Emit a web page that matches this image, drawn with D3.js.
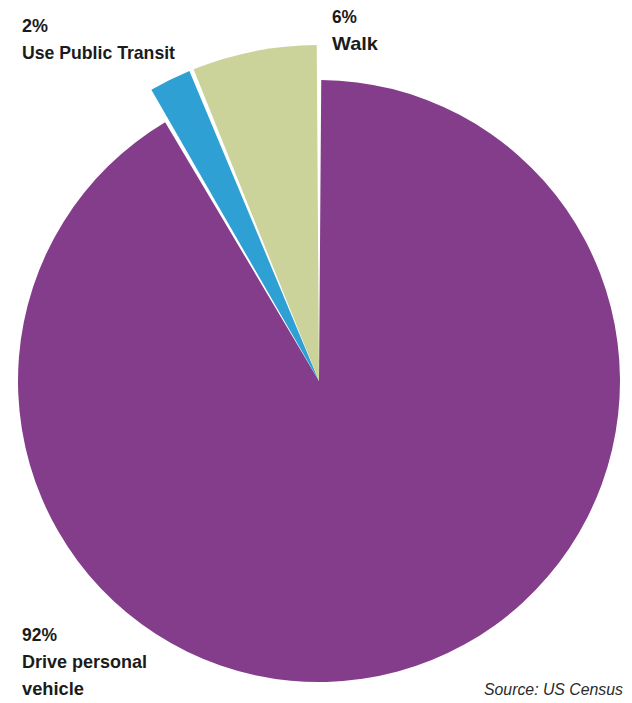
<!DOCTYPE html>
<html>
<head>
<meta charset="utf-8">
<script src="https://cdn.jsdelivr.net/npm/d3@7"></script>
<style>
  html, body { margin: 0; padding: 0; background: #fff; }
  svg { display: block; }
  .lbl { font-family: "Liberation Sans Narrow", "Arial Narrow", "Liberation Sans", sans-serif; font-weight: bold; fill: #1b1b1b; }
  .src { font-family: "Liberation Sans Narrow", "Arial Narrow", "Liberation Sans", sans-serif; font-style: italic; fill: #2a2a2a; }
</style>
</head>
<body>
<script>
// Commute mode shares (percent)
const modes = ["Drive personal vehicle", "Use Public Transit", "Walk"];
const shares = [92, 2, 6];
const colors = ["#843d8a", "#2ea0d3", "#ccd39a"];
const exploded = [false, true, true];
const source = "Source: US Census";

const W = 632, H = 703;
const cx = 319, cy = 381;
const baseR = 301, popR = 336;

const svg = d3.select("body").append("svg")
  .attr("width", W).attr("height", H);

const pie = d3.pie().sort(null).value(d => d.value)
  .startAngle(0).endAngle(2 * Math.PI)
  .padAngle(0.015);

const data = modes.map((m, i) => ({ mode: m, value: shares[i], color: colors[i], pop: exploded[i] }));
const arcs = pie(data);

const g = svg.append("g").attr("transform", `translate(${cx},${cy})`);

g.selectAll("path.slice").data(arcs).join("path")
  .attr("class", "slice")
  .attr("fill", d => d.data.color)
  .attr("d", d => d3.arc()
    .innerRadius(0)
    .outerRadius(d.data.pop ? popR : baseR)
    .padRadius(300)(d));

// Labels: percentage on the first line, mode name below
function label(x, y, lines, widths) {
  const t = svg.append("text").attr("class", "lbl").attr("font-size", 19);
  lines.forEach((s, i) => {
    t.append("tspan").attr("x", x).attr("y", y + i * 27)
      .attr("textLength", widths[i]).attr("lengthAdjust", "spacingAndGlyphs")
      .text(s);
  });
}

label(22, 32, [shares[1] + "%", modes[1]], [26, 153]);
label(332, 23, [shares[2] + "%", "Walk"], [25, 46]);
label(22, 641, [shares[0] + "%", "Drive personal", "vehicle"], [35, 125, 62]);

svg.append("text").attr("class", "src")
  .attr("x", 484).attr("y", 695).attr("font-size", 16)
  .attr("textLength", 139).attr("lengthAdjust", "spacingAndGlyphs")
  .text(source);
</script>
</body>
</html>
